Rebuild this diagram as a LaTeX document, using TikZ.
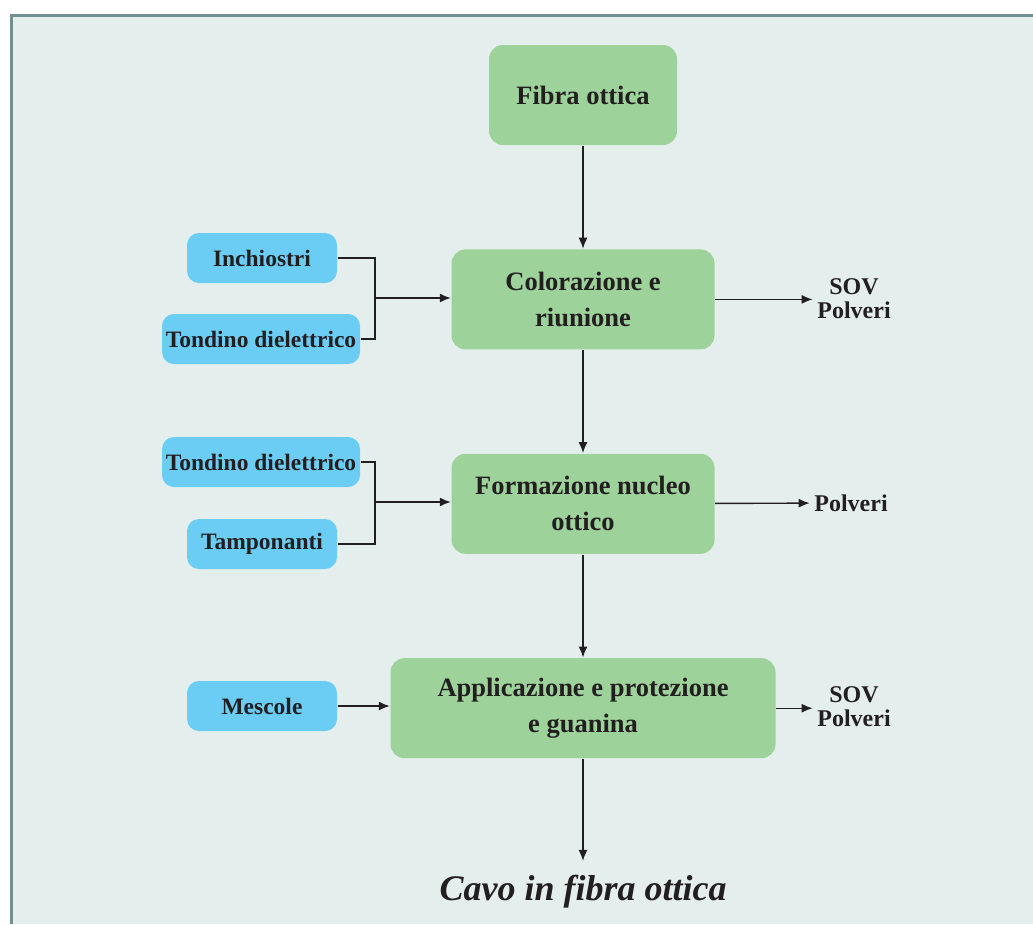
\documentclass[tikz,border=0pt]{standalone}
\usepackage{fontspec}
\setmainfont{Liberation Serif}
\usetikzlibrary{arrows.meta,positioning}
\definecolor{panel}{HTML}{E4EFED}
\definecolor{rim}{HTML}{6F9192}
\definecolor{stepgreen}{HTML}{9DD29B}
\definecolor{feedblue}{HTML}{6CCDF4}
\definecolor{ink}{HTML}{231F20}
\newcommand{\boxfont}{\bfseries\fontsize{26.5}{36}\selectfont}
\tikzset{
  proc/.style={fill=stepgreen,rounded corners=14pt,minimum height=100pt,
    align=center,text=ink,font=\boxfont},
  feed/.style={fill=feedblue,rounded corners=12pt,minimum height=50pt,
    text=ink,font=\bfseries\fontsize{23.5}{30}\selectfont},
  outlbl/.style={align=center,text=ink,inner sep=4pt,
    font=\bfseries\fontsize{24}{24}\selectfont}
}

\begin{document}
\begin{tikzpicture}[x=1pt,y=1pt,>={Latex[length=11pt,width=9pt]},line width=1.4pt,draw=ink]
      \useasboundingbox (0,0) rectangle (1033,-924);
      \fill[panel] (10,-14) rectangle (1033,-924);
      \draw[rim,line width=3pt] (11.5,-924) -- (11.5,-15.5) -- (1033,-15.5);

      \node[proc,minimum width=188pt] (1) at (583,-95) {Fibra ottica};
      \node[proc,minimum width=263pt,below=103pt of 1] (2) {Colorazione e\\riunione};
      \node[proc,minimum width=263pt,below=103pt of 2] (3) {Formazione nucleo\\ottico};
      \node[proc,minimum width=385pt,below=103pt of 3] (4) {Applicazione e protezione\\e guanina};
      \node[text=ink,inner ysep=14pt,font=\bfseries\itshape\fontsize{36}{44}\selectfont,below=102pt of 4] (5) {Cavo in fibra ottica};

      \node[feed,minimum width=150pt] (a) at (262,-258) {Inchiostri};
      \node[feed,minimum width=198pt] (b) at (261,-339) {Tondino dielettrico};
      \node[feed,minimum width=198pt] (c) at (261,-462) {Tondino dielettrico};
      \node[feed,minimum width=150pt] (d) at (262,-544) {Tamponanti};
      \node[feed,minimum width=150pt] (e) at (262,-706) {Mescole};

      \node[outlbl] (s1) at (854,-299) {SOV\\Polveri};
      \node[outlbl] (s2) at (851,-503) {Polveri};
      \node[outlbl] (s3) at (854,-707) {SOV\\Polveri};

      \coordinate (j1) at (375,-298);
      \coordinate (j2) at (375,-502);

      \draw[->] (1) -- (2);
      \draw[->] (2) -- (3);
      \draw[->] (3) -- (4);
      \draw[->] (4) -- (5);

      \draw (a.east) -| (j1);
      \draw (b.east) -| (j1);
      \draw[->] (j1) -- (j1 -| 2.west);
      \draw (c.east) -| (j2);
      \draw (d.east) -| (j2);
      \draw[->] (j2) -- (j2 -| 3.west);
      \draw[->] (e) -- (e -| 4.west);

      \draw[->] (2.east) -- (s1.west |- 2.east);
      \draw[->] (3) -- (s2);
      \draw[->] (4.east) -- (s3.west |- 4.east);
\end{tikzpicture}
\end{document}
